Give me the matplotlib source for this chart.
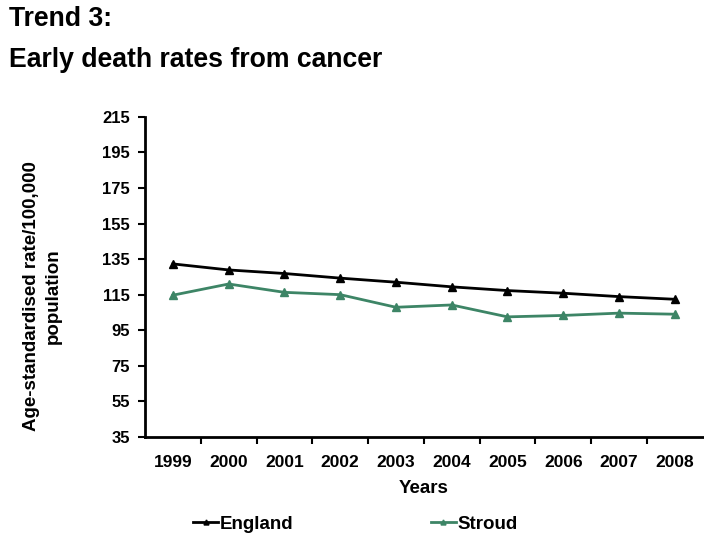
import matplotlib
matplotlib.use("Agg")
import matplotlib.pyplot as plt
import numpy as np

plt.rcParams['font.family'] = ['Liberation Sans', 'DejaVu Sans']
plt.rcParams['font.weight'] = 'bold'

years = ['1999', '2000', '2001', '2002', '2003', '2004', '2005', '2006', '2007', '2008']
england = [132.3, 128.9, 126.9, 124.3, 122.0, 119.4, 117.3, 115.8, 113.9, 112.4]
stroud = [114.7, 121.0, 116.3, 115.0, 107.9, 109.2, 102.5, 103.3, 104.6, 104.0]
yticks = [35, 55, 75, 95, 115, 135, 155, 175, 195, 215]

fig = plt.figure(figsize=(7.04, 5.34), dpi=100)
ax = fig.add_axes([0.206, 0.182, 0.792, 0.599])

x = np.arange(len(years))
ax.plot(x, england, color='black', marker='^', markersize=6, linewidth=2, label='England')
ax.plot(x, stroud, color='#3d8566', marker='^', markersize=6, linewidth=2, label='Stroud')

ax.set_xlim(-0.5, len(years) - 0.5)
ax.set_ylim(35, 215)
ax.set_yticks(yticks)
ax.set_yticklabels([str(t) for t in yticks], fontsize=12, fontweight='bold')
ax.set_xticks(x)
ax.set_xticklabels(years, fontsize=12.5, fontweight='bold')
ax.tick_params(axis='x', which='major', length=0, pad=13)
ax.set_xticks(np.arange(0.5, len(years) - 0.5, 1), minor=True)
ax.tick_params(axis='x', which='minor', length=5, width=1.5, direction='out')
ax.tick_params(axis='y', length=5, width=1.5, direction='out', pad=6)

for s in ['top', 'right']:
    ax.spines[s].set_visible(False)
for s in ['left', 'bottom']:
    ax.spines[s].set_linewidth(2)

ax.set_xlabel('Years', fontsize=13.5, fontweight='bold', labelpad=7)
fig.text(0.06, 0.446, 'Age-standardised rate/100,000\npopulation', rotation=90,
         ha='center', va='center', fontsize=13.5, fontweight='bold', linespacing=1.35)

fig.text(0.013, 0.965, 'Trend 3:', fontsize=19.2, fontweight='bold', va='center')
fig.text(0.013, 0.887, 'Early death rates from cancer', fontsize=19.2, fontweight='bold', va='center')

fig.legend(loc='center', bbox_to_anchor=(0.505, 0.018), ncol=2, frameon=False,
           fontsize=13.5, handlelength=1.35, handletextpad=0.1, columnspacing=7.3,
           markerscale=0.6)

fig.savefig('out.png', dpi=100)
